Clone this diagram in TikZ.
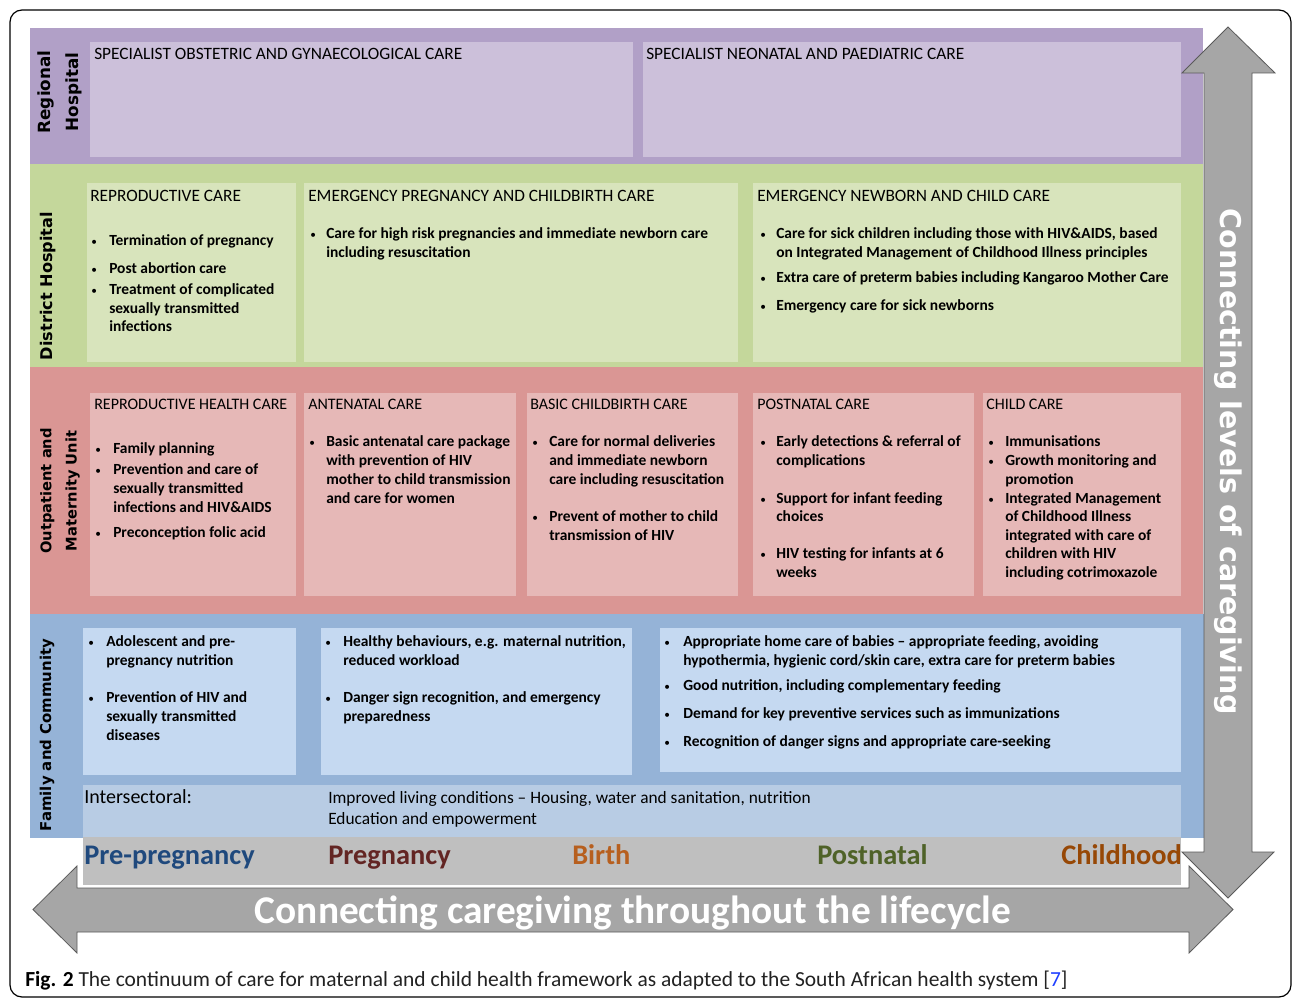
\documentclass[tikz,border=0pt]{standalone}
\usepackage{fontspec}
\setmainfont{Carlito}
\newfontfamily\vfont{DejaVu Sans}
\definecolor{purB}{HTML}{B1A0C7}
\definecolor{purC}{HTML}{CCC0DA}
\definecolor{grnB}{HTML}{C4D79B}
\definecolor{grnC}{HTML}{D8E4BC}
\definecolor{redB}{HTML}{DA9694}
\definecolor{redC}{HTML}{E6B8B7}
\definecolor{bluB}{HTML}{95B3D7}
\definecolor{bluC}{HTML}{C5D9F1}
\definecolor{bluI}{HTML}{B8CCE4}
\definecolor{grayband}{HTML}{BFBFBF}
\definecolor{arrowfill}{HTML}{A6A6A6}
\definecolor{arrowline}{HTML}{5A5A5A}
\definecolor{phPre}{HTML}{1F497D}
\definecolor{phPreg}{HTML}{632523}
\definecolor{phBirth}{HTML}{B75F1E}
\definecolor{phPost}{HTML}{4F6228}
\definecolor{phChild}{HTML}{974806}
\definecolor{capgray}{HTML}{222222}
\definecolor{refblue}{HTML}{1F3FFF}
\newcounter{tl}
\newcommand\Tx[3]{\stepcounter{tl}\node[bt] (t\arabic{tl}) at (#1,#2) {#3};}
\newcommand\Bu[2]{\stepcounter{tl}\node[bul] (b\arabic{tl}) at (#1,#2) {\textbullet};}
\newcommand\Hd[3]{\stepcounter{tl}\node[hdr] (h\arabic{tl}) at (#1,#2) {#3};}
\newcommand\Hs[3]{\stepcounter{tl}\node[hdr, font=\fontsize{12}{14}\selectfont] (h\arabic{tl}) at (#1,#2) {#3};}
\begin{document}
\begin{tikzpicture}[x=0.75pt,y=-0.75pt,
  hdr/.style={anchor=base west, inner sep=0pt, font=\fontsize{13}{15}\selectfont},
  bt/.style={anchor=base west, inner sep=0pt, font=\fontsize{11.6}{14}\selectfont\bfseries},
  bul/.style={anchor=base west, inner sep=0pt, font=\fontsize{8.5}{10}\selectfont},
  rowlab/.style={rotate=90, align=center, inner sep=0pt, font=\vfont\bfseries\fontsize{11.5}{21}\selectfont},
  phase/.style={anchor=base west, inner sep=0pt, font=\fontsize{21.3}{24}\selectfont\bfseries},
  arrowshape/.style={fill=arrowfill, draw=arrowline, line width=0.6pt, line join=miter}]
\useasboundingbox (0,0) rectangle (1292,998);
\fill[white] (0,0) rectangle (1292,998);
% outer frame
\draw[line width=0.9pt, rounded corners=9pt] (10,10) rectangle (1291,997);
% bands
\fill[purB] (30,28) rectangle (1203,164);
\fill[grnB] (30,164) rectangle (1203,367);
\fill[redB] (30,367) rectangle (1203,614);
\fill[bluB] (30,614) rectangle (1204,838);
% inner boxes
\fill[purC] (90,42) rectangle (633,157);
\fill[purC] (643,42) rectangle (1181,157);
\fill[grnC] (87,183) rectangle (296,362);
\fill[grnC] (304,183) rectangle (738,362);
\fill[grnC] (753,183) rectangle (1181,362);
\fill[redC] (90,393) rectangle (296,596);
\fill[redC] (304,393) rectangle (516,596);
\fill[redC] (527,393) rectangle (738,596);
\fill[redC] (753,393) rectangle (974,596);
\fill[redC] (983,393) rectangle (1181,596);
\fill[bluC] (83,628) rectangle (296,775);
\fill[bluC] (321,628) rectangle (632,775);
\fill[bluC] (660,628) rectangle (1181,772);
\fill[bluI] (83,785) rectangle (1181,837);
\fill[grayband] (83,837) rectangle (1181,885);
% row labels
\node[rowlab, font=\vfont\bfseries\fontsize{12.6}{21}\selectfont] (lreg) at (60,92) {Regional\\Hospital};
\node[rowlab, font=\vfont\bfseries\fontsize{12.1}{21}\selectfont] (ldis) at (48,286) {District Hospital};
\node[rowlab, font=\vfont\bfseries\fontsize{11}{19}\selectfont] (lout) at (60,491) {Outpatient and\\Maternity Unit};
\node[rowlab, font=\vfont\bfseries\fontsize{11.2}{19}\selectfont] (lfam) at (47,735) {Family and Community};
% Regional
\Hd{94}{60}{SPECIALIST OBSTETRIC AND GYNAECOLOGICAL CARE}
\Hd{646}{60}{SPECIALIST NEONATAL AND PAEDIATRIC CARE}
% District
\Hd{90}{202}{REPRODUCTIVE CARE}
\Hd{308}{202}{EMERGENCY PREGNANCY AND CHILDBIRTH CARE}
\Hd{757}{202}{EMERGENCY NEWBORN AND CHILD CARE}
\Bu{91}{246}\Bu{91}{274}\Bu{91}{295}
\Tx{109}{246}{Termination of pregnancy}
\Tx{109}{274}{Post abortion care}
\Tx{109}{295}{Treatment of complicated}
\Tx{109}{314}{sexually transmitted}
\Tx{109}{332}{infections}
\Bu{310}{239}
\Tx{326}{239}{Care for high risk pregnancies and immediate newborn care}
\Tx{326}{258}{including resuscitation}
\Bu{760}{239}\Bu{760}{283}\Bu{760}{311}
\Tx{776}{239}{Care for sick children including those with HIV\&AIDS, based}
\Tx{776}{258}{on Integrated Management of Childhood Illness principles}
\Tx{776}{283}{Extra care of preterm babies including Kangaroo Mother Care}
\Tx{776}{311}{Emergency care for sick newborns}
% Outpatient
\Hs{94}{410}{REPRODUCTIVE HEALTH CARE}
\Hs{308}{410}{ANTENATAL CARE}
\Hs{530}{410}{BASIC CHILDBIRTH CARE}
\Hs{757}{410}{POSTNATAL CARE}
\Hs{986}{410}{CHILD CARE}
\Bu{95}{453}\Bu{95}{474}\Bu{95}{537}
\Tx{113}{453}{Family planning}
\Tx{113}{474}{Prevention and care of}
\Tx{113}{493}{sexually transmitted}
\Tx{113}{512}{infections and HIV\&AIDS}
\Tx{113}{537}{Preconception folic acid}
\Bu{309}{446}
\Tx{326}{446}{Basic antenatal care package}
\Tx{326}{465}{with prevention of HIV}
\Tx{326}{484}{mother to child transmission}
\Tx{326}{503}{and care for women}
\Bu{532}{446}\Bu{532}{521}
\Tx{549}{446}{Care for normal deliveries}
\Tx{549}{465}{and immediate newborn}
\Tx{549}{484}{care including resuscitation}
\Tx{549}{521}{Prevent of mother to child}
\Tx{549}{540}{transmission of HIV}
\Bu{760}{446}\Bu{760}{503}\Bu{760}{558}
\Tx{776}{446}{Early detections \& referral of}
\Tx{776}{465}{complications}
\Tx{776}{503}{Support for infant feeding}
\Tx{776}{521}{choices}
\Tx{776}{558}{HIV testing for infants at 6}
\Tx{776}{577}{weeks}
\Bu{988}{446}\Bu{988}{465}\Bu{988}{503}
\Tx{1005}{446}{Immunisations}
\Tx{1005}{465}{Growth monitoring and}
\Tx{1005}{484}{promotion}
\Tx{1005}{503}{Integrated Management}
\Tx{1005}{521}{of Childhood Illness}
\Tx{1005}{540}{integrated with care of}
\Tx{1005}{558}{children with HIV}
\Tx{1005}{577}{including cotrimoxazole}
% Family
\Bu{88}{646}\Bu{88}{702}
\Tx{106}{646}{Adolescent and pre-}
\Tx{106}{665}{pregnancy nutrition}
\Tx{106}{702}{Prevention of HIV and}
\Tx{106}{721}{sexually transmitted}
\Tx{106}{740}{diseases}
\Bu{325}{646}\Bu{325}{702}
\Tx{343}{646}{Healthy behaviours, e.g. maternal nutrition,}
\Tx{343}{665}{reduced workload}
\Tx{343}{702}{Danger sign recognition, and emergency}
\Tx{343}{721}{preparedness}
\Bu{664}{646}\Bu{664}{690}\Bu{664}{718}\Bu{664}{746}
\Tx{683}{646}{Appropriate home care of babies -- appropriate feeding, avoiding}
\Tx{683}{665}{hypothermia, hygienic cord/skin care, extra care for preterm babies}
\Tx{683}{690}{Good nutrition, including complementary feeding}
\Tx{683}{718}{Demand for key preventive services such as immunizations}
\Tx{683}{746}{Recognition of danger signs and appropriate care-seeking}
\node[anchor=base west, inner sep=0pt, font=\fontsize{15}{17}\selectfont] (inter) at (84,803) {Intersectoral:};
\node[anchor=base west, inner sep=0pt, font=\fontsize{13}{15}\selectfont] (int1) at (328,803) {Improved living conditions -- Housing, water and sanitation, nutrition};
\node[anchor=base west, inner sep=0pt, font=\fontsize{13}{15}\selectfont] (int2) at (328,824) {Education and empowerment};
% phases
\node[phase, text=phPre] (ph1) at (84,864) {Pre-pregnancy};
\node[phase, text=phPreg] (ph2) at (328,864) {Pregnancy};
\node[phase, text=phBirth] (ph3) at (572,864) {Birth};
\node[phase, text=phPost] (ph4) at (817,864) {Postnatal};
\node[phase, text=phChild] (ph5) at (1061,864) {Childhood};
% vertical arrow
\path[arrowshape] (1228,27) -- (1275,73) -- (1252,73) -- (1252,852) -- (1274,852) -- (1228,898) -- (1182,852) -- (1204,852) -- (1204,73) -- (1182,73) -- cycle;
\node[rotate=-90, text=white, inner sep=0pt, font=\vfont\bfseries\fontsize{21.4}{24}\selectfont] (vtxt) at (1228,462) {Connecting levels of caregiving};
% horizontal arrow
\path[arrowshape] (33,909.5) -- (77,866) -- (77,888) -- (1189,888) -- (1189,866) -- (1233,909.5) -- (1189,953) -- (1189,932) -- (77,932) -- (77,953) -- cycle;
\node[anchor=base, text=white, inner sep=0pt, font=\fontsize{29.5}{32}\selectfont\bfseries] (htxt) at (633,923) {Connecting caregiving throughout the lifecycle};
% caption
\node[anchor=base west, inner sep=0pt, text=capgray, font=\fontsize{16.1}{18}\selectfont] (cap) at (25,986) {\textbf{\color{black}Fig. 2} The continuum of care for maternal and child health framework as adapted to the South African health system [\textcolor{refblue}{7}]};
\end{tikzpicture}
\end{document}
